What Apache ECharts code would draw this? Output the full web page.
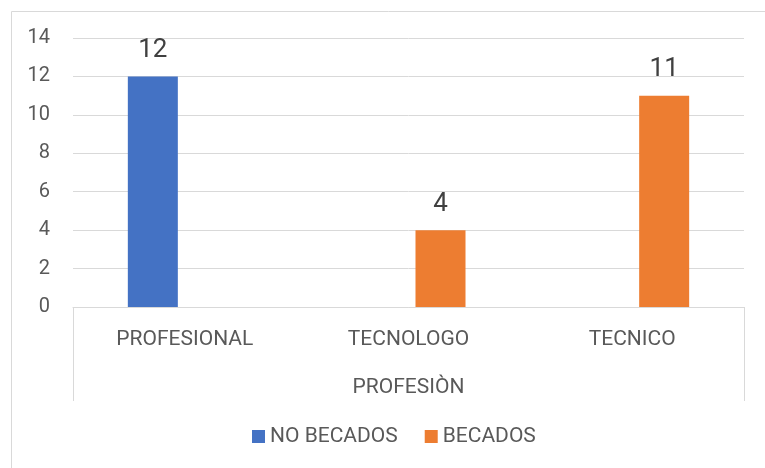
<!DOCTYPE html>
<html>
<head>
<meta charset="utf-8">
<script src="https://cdn.jsdelivr.net/npm/echarts@6/dist/echarts.min.js"></script>
<style>
  html, body { margin: 0; padding: 0; background: #fff; }
  #container { width: 765px; height: 468px; }
</style>
</head>
<body>
<div id="container"></div>
<script>
const categories = ['PROFESIONAL', 'TECNOLOGO', 'TECNICO'];
const noBecados = [12, null, null];
const becados = [null, 4, 11];
const axisTitle = 'PROFESIÒN';

const chart = echarts.init(document.getElementById('container'));
const textColor = '#595959';
const fontName = 'Roboto';

const barLabel = {
	show: true,
	position: 'top',
	distance: 13,
	fontSize: 26,
	color: '#404040',
	fontFamily: fontName
};

chart.setOption({
	animation: false,
	graphic: [{
		type: 'rect',
		left: 9,
		top: 9,
		shape: { width: 800, height: 500 },
		style: { fill: 'none', stroke: '#d9d9d9', lineWidth: 1 }
	}],
	grid: { left: 73, right: 21, top: 38, bottom: 161 },
	legend: {
		bottom: 16,
		left: 247,
		itemWidth: 13,
		itemHeight: 13,
		itemGap: 27,
		icon: 'rect',
		textStyle: { color: textColor, fontSize: 21, fontFamily: fontName },
		data: ['NO BECADOS', 'BECADOS']
	},
	xAxis: {
		type: 'category',
		data: categories,
		name: axisTitle,
		nameLocation: 'middle',
		nameGap: 70,
		nameTextStyle: { color: textColor, fontSize: 21, fontFamily: fontName },
		axisLine: { lineStyle: { color: '#d9d9d9', width: 1 } },
		axisTick: {
			show: true,
			length: 94,
			interval: function (index) { return index === 0; },
			lineStyle: { color: '#d9d9d9' }
		},
		axisLabel: { color: textColor, fontSize: 21, margin: 22, fontFamily: fontName }
	},
	yAxis: {
		type: 'value',
		min: 0,
		max: 14,
		interval: 2,
		axisLine: { show: false },
		axisTick: { show: false },
		splitLine: { lineStyle: { color: '#d9d9d9', width: 1 } },
		axisLabel: { color: textColor, fontSize: 20, margin: 23, fontFamily: fontName }
	},
	series: [{
		name: 'NO BECADOS',
		type: 'bar',
		data: noBecados,
		barWidth: 50,
		barGap: '28%',
		itemStyle: { color: '#4472c4' },
		label: barLabel
	}, {
		name: 'BECADOS',
		type: 'bar',
		data: becados,
		barWidth: 50,
		itemStyle: { color: '#ed7d31' },
		label: barLabel
	}]
});
</script>
</body>
</html>
